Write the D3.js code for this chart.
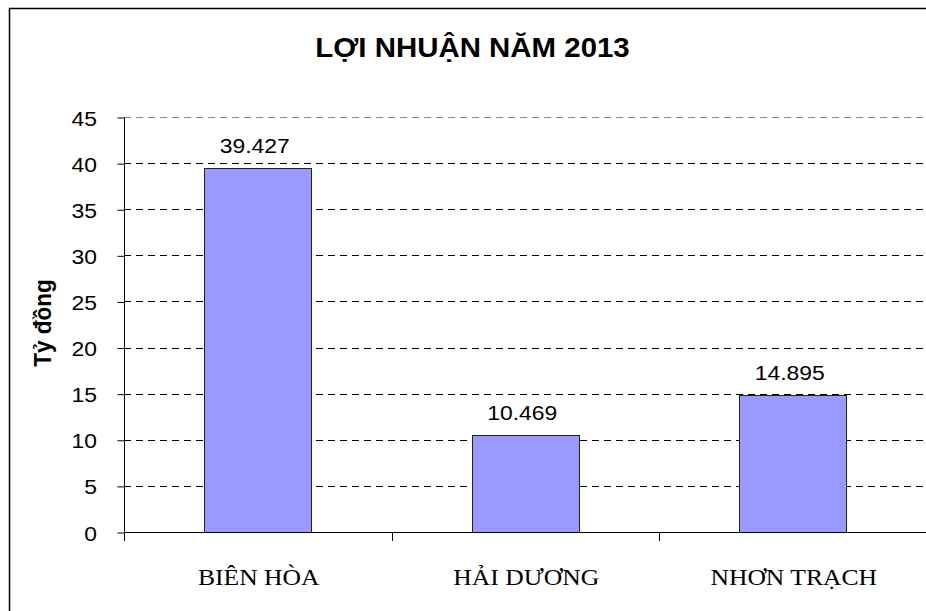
<!DOCTYPE html>
<html>
<head>
<meta charset="utf-8">
<script src="https://cdn.jsdelivr.net/npm/d3@7"></script>
<style>
  html, body { margin: 0; padding: 0; background: #fff; overflow: hidden; }
  svg { display: block; }
</style>
</head>
<body>
<svg id="chart" width="926" height="611"></svg>
<script>
const categories = ["BIÊN HÒA", "HẢI DƯƠNG", "NHƠN TRẠCH"];
const values = [39.427, 10.469, 14.895];
const valueLabels = ["39.427", "10.469", "14.895"];
const yTicks = [0, 5, 10, 15, 20, 25, 30, 35, 40, 45];
const title = "LỢI NHUẬN NĂM 2013";
const yTitle = "Tỷ đồng";

const W = 926, H = 611;
const sx = 1.09; // horizontal text stretch seen in the reference
const svg = d3.select("#chart");
const sans = "'Liberation Sans', Arial, Helvetica, sans-serif";
const serif = "'Liberation Serif', 'Times New Roman', serif";

// outer frame (only top and left edges visible)
svg.append("path")
  .attr("d", `M9.5,${H + 5} L9.5,8.5 L${W + 5},8.5`)
  .attr("fill", "none").attr("stroke", "#000").attr("stroke-width", 1.5);

const pLeft = 124, pRight = 926.5, pTop = 117, pBottom = 532;

const x = d3.scaleBand().domain(categories).range([pLeft, pRight]).paddingInner(0).paddingOuter(0);
const y = d3.scaleLinear().domain([0, 45]).range([pBottom, pTop]);

// gridlines
svg.append("g").selectAll("line").data(yTicks.filter(d => d > 0)).join("line")
  .attr("x1", pLeft).attr("x2", W)
  .attr("y1", d => Math.round(y(d)) + 0.5).attr("y2", d => Math.round(y(d)) + 0.5)
  .attr("stroke", d => d === 45 ? "#888" : "#000")
  .attr("stroke-width", 1)
  .attr("stroke-dasharray", "7,5");

// bars
const bw = x.bandwidth() * 0.4;
svg.append("g").selectAll("rect").data(values).join("rect")
  .attr("x", (d, i) => Math.round(x(categories[i]) + (x.bandwidth() - bw) / 2) + 0.5)
  .attr("y", d => Math.round(y(d)) + 0.5)
  .attr("width", Math.round(bw))
  .attr("height", d => Math.round(y(0)) - Math.round(y(d)))
  .attr("fill", "#9999FF")
  .attr("stroke", "#222")
  .attr("stroke-width", 1);

// y axis
const yAxis = d3.axisLeft(y).tickValues(yTicks).tickSize(7).tickFormat("");
const gy = svg.append("g").attr("transform", `translate(${pLeft + 0.5},0.5)`).call(yAxis);
gy.select(".domain").attr("stroke", "#000").attr("d", `M0,${pTop} V${pBottom}`);
gy.selectAll(".tick line").attr("stroke", "#000");

svg.append("g").selectAll("text").data(yTicks).join("text")
  .attr("transform", d => `translate(97,${y(d) + 8.5}) scale(${sx},1)`)
  .attr("text-anchor", "end")
  .attr("font-family", sans).attr("font-size", 21).attr("fill", "#000")
  .text(d => d);

// x axis
const xAxis = d3.axisBottom(x).tickSize(0).tickFormat("");
const gx = svg.append("g").attr("transform", `translate(0,${pBottom + 0.5})`).call(xAxis);
gx.select(".domain").attr("stroke", "#000").attr("d", `M${pLeft},0 H${W}`);
gx.selectAll(".tick").remove();
// boundary tick marks
svg.append("g").selectAll("line").data(categories).join("line")
  .attr("x1", d => Math.round(x(d)) + 0.5).attr("x2", d => Math.round(x(d)) + 0.5)
  .attr("y1", pBottom).attr("y2", pBottom + 9)
  .attr("stroke", "#000");

svg.append("g").selectAll("text").data(categories).join("text")
  .attr("transform", d => `translate(${x(d) + x.bandwidth() / 2 + 1},584.5) scale(${sx},1)`)
  .attr("text-anchor", "middle")
  .attr("font-family", serif).attr("font-size", 23.5).attr("fill", "#000")
  .text(d => d);

// value labels
svg.append("g").selectAll("text").data(values).join("text")
  .attr("transform", (d, i) => `translate(${x(categories[i]) + x.bandwidth() / 2 - 3},${y(d) - 15}) scale(${sx},1)`)
  .attr("text-anchor", "middle")
  .attr("font-family", sans).attr("font-size", 21).attr("fill", "#000")
  .text((d, i) => valueLabels[i]);

// title
svg.append("text")
  .attr("transform", `translate(472.5,56.5) scale(${sx},1)`)
  .attr("text-anchor", "middle")
  .attr("font-family", sans).attr("font-size", 27).attr("font-weight", "bold").attr("fill", "#000")
  .text(title);

// y axis title
svg.append("text")
  .attr("transform", `translate(51,323) scale(${sx},1) rotate(-90)`)
  .attr("text-anchor", "middle")
  .attr("font-family", sans).attr("font-size", 22.5).attr("font-weight", "bold").attr("fill", "#000")
  .text(yTitle);
</script>
</body>
</html>
